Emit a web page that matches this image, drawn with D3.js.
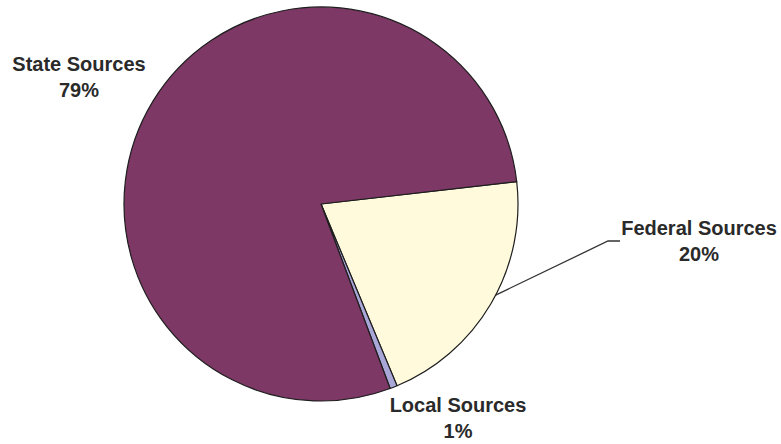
<!DOCTYPE html>
<html><head><meta charset="utf-8">
<script src="https://cdn.jsdelivr.net/npm/d3@7"></script>
<style>html,body{margin:0;padding:0;background:#fff;}svg{display:block;}</style>
</head><body>
<svg id="chart" width="781" height="444"></svg>
<script>
const categories = ["Federal Sources", "Local Sources", "State Sources"];
const values = [20.5, 0.6, 78.9];
const percentLabels = ["20%", "1%", "79%"];
const colors = ["#fffadc", "#a9a6d8", "#7d3866"];

const svg = d3.select("#chart");
const cx = 321, cy = 204, r = 197;
const g = svg.append("g").attr("transform", `translate(${cx},${cy})`);

const pie = d3.pie().sort(null).value(d => d.v)
  .startAngle(83.5 * Math.PI / 180).endAngle(83.5 * Math.PI / 180 + 2 * Math.PI);
const data = categories.map((c, i) => ({c, v: values[i], p: percentLabels[i], col: colors[i]}));
const arcs = pie(data);
const arc = d3.arc().innerRadius(0).outerRadius(r);

g.selectAll("path.slice").data(arcs).join("path")
  .attr("class", "slice")
  .attr("d", arc)
  .attr("fill", d => d.data.col)
  .attr("stroke", "#1e1e1e")
  .attr("stroke-width", 1.2)
  .attr("stroke-linejoin", "round");

// leader line for Federal
const fed = arcs[0];
const mid = (fed.startAngle + fed.endAngle) / 2 - 0.05;
const p0 = [cx + r * Math.sin(mid), cy - r * Math.cos(mid)];
svg.append("polyline")
  .attr("points", [p0, [608, 241], [620, 241]].map(p => p.join(",")).join(" "))
  .attr("fill", "none").attr("stroke", "#333").attr("stroke-width", 1.3);

const labelPos = {
  "State Sources": [79, 71],
  "Federal Sources": [699, 235],
  "Local Sources": [458, 412]
};
const font = "'Liberation Sans', Arial, sans-serif";
data.forEach(d => {
  const [x, y] = labelPos[d.c];
  const t = svg.append("text").attr("x", x).attr("y", y)
    .attr("text-anchor", "middle")
    .attr("font-family", font).attr("font-weight", "bold")
    .attr("font-size", 20).attr("fill", "#2a2a2a");
  t.append("tspan").attr("x", x).text(d.c);
  t.append("tspan").attr("x", x).attr("dy", 26).text(d.p);
});
</script>
</body></html>
